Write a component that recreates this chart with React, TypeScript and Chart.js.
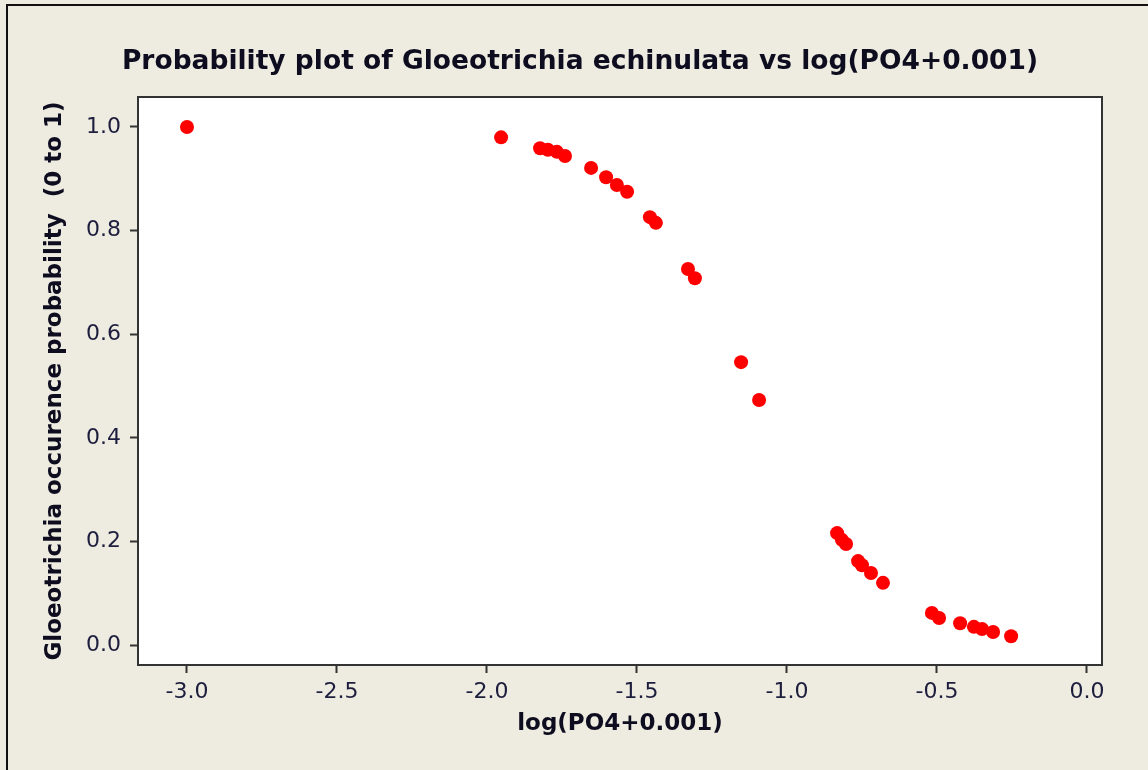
import { useEffect, useRef } from "react";
import { Chart, registerables } from "chart.js";

Chart.register(...registerables);

// log(PO4 + 0.001) values
const logPO4 = [
  -3.0, -1.953, -1.823, -1.797, -1.767, -1.74, -1.653, -1.603, -1.567, -1.533,
  -1.457, -1.437, -1.33, -1.307, -1.153, -1.093, -0.833, -0.817, -0.803, -0.763,
  -0.75, -0.72, -0.68, -0.517, -0.493, -0.423, -0.377, -0.35, -0.313, -0.253,
];

// Predicted occurrence probability for each sample
const probability = [
  1.0, 0.98, 0.959, 0.956, 0.952, 0.944, 0.921, 0.903, 0.888, 0.875,
  0.826, 0.815, 0.726, 0.708, 0.546, 0.473, 0.216, 0.203, 0.195, 0.162,
  0.154, 0.139, 0.12, 0.062, 0.052, 0.042, 0.035, 0.031, 0.025, 0.017,
];

const xTicks = [-3.0, -2.5, -2.0, -1.5, -1.0, -0.5, 0.0];
const yTicks = [0.0, 0.2, 0.4, 0.6, 0.8, 1.0];

const TITLE = "Probability plot of Gloeotrichia echinulata vs log(PO4+0.001)";
const X_TITLE = "log(PO4+0.001)";
const Y_TITLE = "Gloeotrichia occurence probability  (0 to 1)";

const FONT = "'DejaVu Sans', Verdana, sans-serif";
const PAGE_BG = "#eeebe1";
const FRAME = "#333333";

const framePlugin = {
  id: "frame",
  beforeDraw(chart: any) {
    const { ctx, width, height, chartArea } = chart;
    ctx.save();
    ctx.fillStyle = PAGE_BG;
    ctx.fillRect(0, 0, width, height);
    ctx.fillStyle = "#ffffff";
    ctx.fillRect(
      chartArea.left,
      chartArea.top,
      chartArea.right - chartArea.left,
      chartArea.bottom - chartArea.top
    );
    // outer window border
    ctx.strokeStyle = "#111111";
    ctx.lineWidth = 2;
    ctx.strokeRect(7, 5, width + 20, height + 20);
    ctx.restore();
  },
  afterDraw(chart: any) {
    const { ctx, chartArea } = chart;
    ctx.save();
    ctx.strokeStyle = FRAME;
    ctx.lineWidth = 2;
    ctx.strokeRect(
      chartArea.left,
      chartArea.top,
      chartArea.right - chartArea.left,
      chartArea.bottom - chartArea.top
    );
    ctx.fillStyle = "#0d0d1f";
    ctx.font = `bold 26.5px ${FONT}`;
    ctx.textAlign = "center";
    ctx.textBaseline = "middle";
    ctx.fillText(TITLE, 580, 62);
    ctx.restore();
  },
};

export default function App() {
  const canvasRef = useRef<HTMLCanvasElement | null>(null);

  useEffect(() => {
    if (!canvasRef.current) return;
    const chart = new Chart(canvasRef.current, {
      type: "scatter",
      data: {
        datasets: [
          {
            data: logPO4.map((x, i) => ({ x, y: probability[i] })),
            backgroundColor: "#ff0000",
            borderWidth: 0,
            pointRadius: 7,
            pointHoverRadius: 7,
          },
        ],
      },
      options: {
        animation: false,
        responsive: false,
        events: [],
        layout: { padding: { left: 0, right: 46, top: 97, bottom: 0 } },
        plugins: {
          legend: { display: false },
          tooltip: { enabled: false },
          title: { display: false },
        },
        scales: {
          x: {
            type: "linear",
            min: -3.1633,
            max: 0.05,
            afterBuildTicks: (scale: any) => {
              scale.ticks = xTicks.map((value) => ({ value }));
            },
            afterFit: (scale: any) => {
              scale.height = 105;
            },
            grid: {
              drawOnChartArea: false,
              drawTicks: true,
              tickLength: 8,
              tickWidth: 2,
              tickColor: FRAME,
            },
            border: { display: true, color: FRAME, width: 2 },
            ticks: {
              color: "#1d1d3d",
              font: { family: FONT, size: 22 },
              padding: 6,
              callback: (v: any) => Number(v).toFixed(1),
            },
            title: {
              display: true,
              text: X_TITLE,
              color: "#0d0d1f",
              font: { family: FONT, size: 23, weight: "bold" },
              padding: { top: 0, bottom: 32 },
            },
          },
          y: {
            type: "linear",
            min: -0.0386,
            max: 1.0579,
            afterBuildTicks: (scale: any) => {
              scale.ticks = yTicks.map((value) => ({ value }));
            },
            afterFit: (scale: any) => {
              scale.width = 138;
            },
            grid: {
              drawOnChartArea: false,
              drawTicks: true,
              tickLength: 8,
              tickWidth: 2,
              tickColor: FRAME,
            },
            border: { display: true, color: FRAME, width: 2 },
            ticks: {
              color: "#1d1d3d",
              font: { family: FONT, size: 22 },
              padding: 9,
              callback: (v: any) => Number(v).toFixed(1),
            },
            title: {
              display: true,
              text: Y_TITLE,
              color: "#0d0d1f",
              font: { family: FONT, size: 23, weight: "bold" },
              padding: { top: 41, bottom: 0 },
            },
          },
        },
      },
      plugins: [framePlugin],
    });
    return () => chart.destroy();
  }, []);

  return (
    <div style={{ position: "fixed", left: 0, top: 0, width: 1148, height: 770 }}>
      <canvas ref={canvasRef} width={1148} height={770} />
    </div>
  );
}
